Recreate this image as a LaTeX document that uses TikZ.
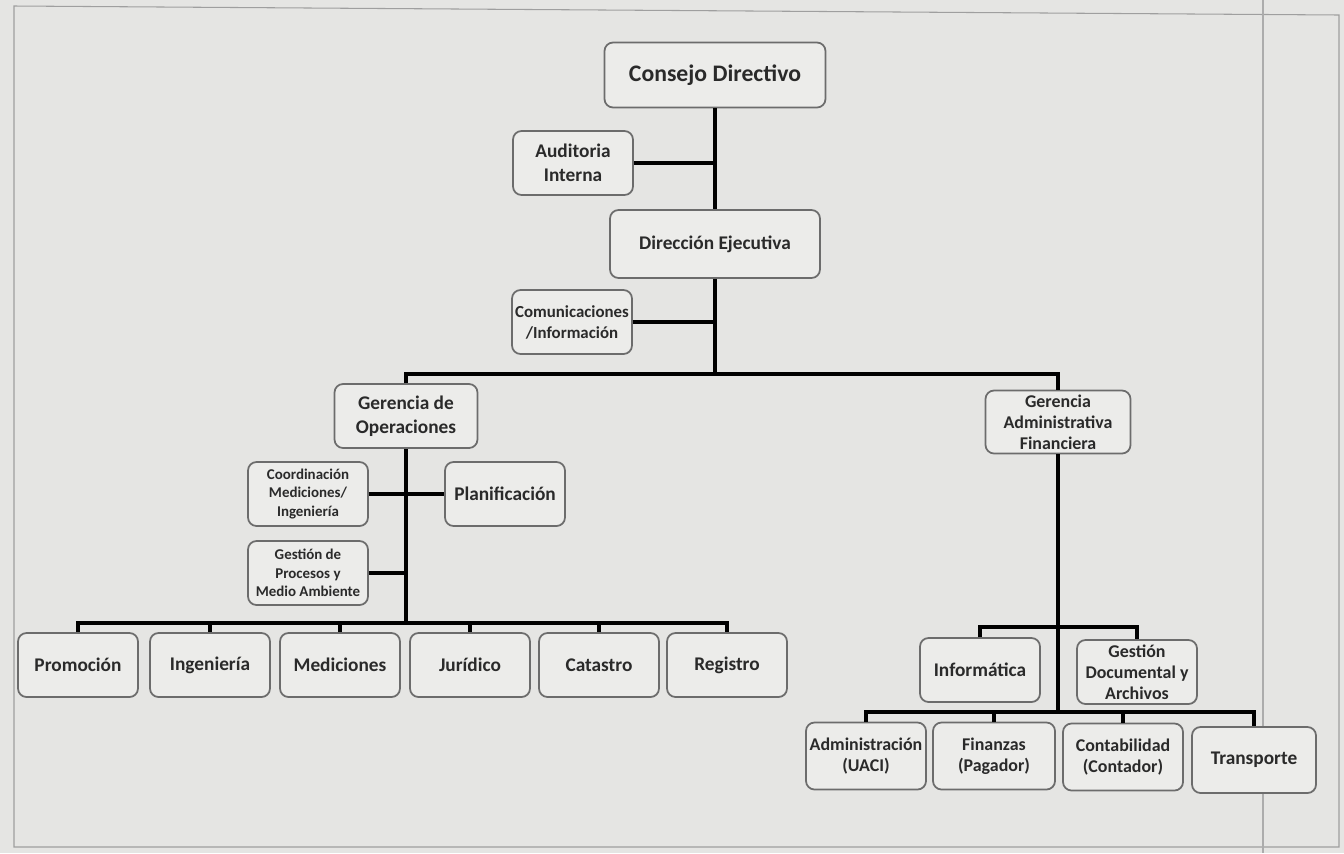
\documentclass[tikz,border=0pt]{standalone}
\usepackage{fontspec}
\setmainfont{Carlito}
\usepackage{tikz}
\definecolor{scan}{RGB}{229,229,227}
\definecolor{boxfill}{RGB}{236,236,234}
\definecolor{boxline}{RGB}{108,108,108}
\definecolor{ink}{RGB}{42,42,42}
\tikzset{
  box/.style={draw=boxline, fill=boxfill, line width=1pt, rounded corners=0.17cm,
    align=center, text=ink, inner sep=1pt, minimum width=2.4cm, minimum height=1.28cm,
    font=\bfseries\fontsize{11}{13.5}\selectfont},
  small/.style={font=\bfseries\fontsize{8.5}{10.5}\selectfont},
  mid/.style={font=\bfseries\fontsize{10.2}{12}\selectfont},
  link/.style={line width=1.9pt, black},
}

\begin{document}
\begin{tikzpicture}[x=0.02cm,y=-0.02cm]
	%the page
	    \useasboundingbox (0,0) rectangle (1344,853);
	    \fill[scan] (0,0) rectangle (1344,853);
	    \draw[gray!75, line width=0.6pt] (14,6) -- (1339,15) -- (1339,847) -- (14,847) -- cycle;
	    \draw[gray!65, line width=0.8pt] (1263,0) -- (1263,853);
	%top of the chart
    \node[box, minimum width=4.42cm, minimum height=1.3cm, font=\bfseries\fontsize{13.5}{16}\selectfont] (cd) at (715,75) {Consejo Directivo};
    \node[box] (ai) at (573,163) {Auditoria\\Interna};
    \node[box, minimum width=4.2cm, minimum height=1.36cm] (de) at (715,244) {Dirección Ejecutiva};
    \node[box, inner sep=0pt, font=\bfseries\fontsize{9.6}{12}\selectfont] (com) at (572,322) {Comunicaciones\\/Información};
	%operaciones
    \node[box, minimum width=2.86cm] (go) at (406,416) {Gerencia de\\Operaciones};
    \node[box, small] (cmi) at (308,494) {Coordinación\\Mediciones/\\Ingeniería};
    \node[box] (pla) at (505,494) {Planificación};
    \node[box, small] (gpm) at (308,573) {Gestión de\\Procesos y\\Medio Ambiente};
    \foreach \n/\x/\t in {pro/78/Promoción, ing/210/Ingeniería, med/340/Mediciones,
                          jur/470/Jurídico, cat/599/Catastro, reg/727/Registro}
       \node[box] (\n) at (\x,665) {\t};
	%administrativa financiera
    \node[box, mid, minimum width=2.9cm, minimum height=1.26cm] (gaf) at (1058,422) {Gerencia\\Administrativa\\Financiera};
    \node[box] (inf) at (980,670) {Informática};
    \node[box, mid] (gda) at (1137,672) {Gestión\\Documental y\\Archivos};
    \node[box, mid, minimum height=1.34cm] (adm) at (866,756) {Administración\\(UACI)};
    \node[box, mid, minimum width=2.44cm, minimum height=1.34cm] (fin) at (994,756) {Finanzas\\(Pagador)};
    \node[box, mid, minimum height=1.34cm] (con) at (1123,757) {Contabilidad\\(Contador)};
    \node[box, minimum width=2.48cm, minimum height=1.32cm] (tra) at (1254,760) {Transporte};
	%the lines
   \coordinate (j1) at (715,374);
   \coordinate (j2) at (406,623);
   \coordinate (j3) at (1058,627);
   \coordinate (j4) at (1058,712);
   \draw[link] (cd) -- (de);
   \draw[link] (ai.east) -- (ai.east -| cd.south);
   \draw[link] (de.south) -- (de.south |- j1);
   \draw[link] (com.east) -- (com.east -| de.south);
   \draw[link] (go.north) |- (j1) -| (gaf.north);
   \draw[link] (go.south) -- (go.south |- j2);
   \draw[link] (cmi) -- (pla);
   \draw[link] (gpm.east) -- (gpm.east -| go.south);
   \draw[link] (pro.north) |- (j2) -| (reg.north);
   \foreach \n in {ing,med,jur,cat}
      \draw[link] (\n.north) -- (\n.north |- j2);
   \draw[link] (gaf.south) -- (gaf.south |- j4);
   \draw[link] (inf.north) |- (j3) -| (gda.north);
   \draw[link] (adm.north) |- (j4) -| (tra.north);
   \foreach \n in {fin,con}
      \draw[link] (\n.north) -- (\n.north |- j4);

\end{tikzpicture}
\end{document}
